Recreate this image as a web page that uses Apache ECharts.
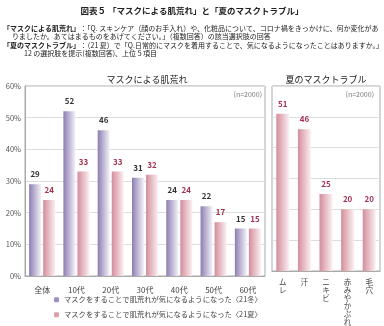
<!DOCTYPE html>
<html><head><meta charset="utf-8">
<script src="https://cdn.jsdelivr.net/npm/echarts@6/dist/echarts.min.js"></script>
<style>html,body{margin:0;padding:0;background:#fff}#c{width:384px;height:326px}</style>
</head><body><div id="c"></div>
<script>
var leftCategories = ['全体','10代','20代','30代','40代','50代','60代'];
var winter21 = [29, 52, 46, 31, 24, 22, 15];
var summer21 = [24, 33, 33, 32, 24, 17, 15];
var rightCategories = ['ムレ','汗','ニキビ','赤みやかぶれ','毛穴'];
var troubleValues = [51, 46, 25, 20, 20];
var yTicks = [0, 10, 20, 30, 40, 50, 60];
var seriesNames = ['マスクをすることで肌荒れが気になるようになった〈21冬〉','マスクをすることで肌荒れが気になるようになった〈21夏〉'];

var F = '"Noto Sans CJK JP", "Noto Sans", sans-serif';
function grad(c1, c2){
  return new echarts.graphic.LinearGradient(0,0,1,0,[{offset:0,color:c1},{offset:1,color:c2}]);
}
var purple = grad('#8d7db2','#f4f2f8');
var pink = grad('#d48d9c','#fbf0f2');
var legendText = {fontSize:7.3, color:'#444', fontFamily:F};

var chart = echarts.init(document.getElementById('c'));
chart.setOption({
  animation:false,
  textStyle:{fontFamily:F},
  grid:[
    {left:25, top:86, width:240, height:190, show:true, borderColor:'#aaa', borderWidth:1},
    {left:272, top:86, width:108, height:190, show:true, borderColor:'#aaa', borderWidth:1}
  ],
  xAxis:[
    {type:'category', gridIndex:0, data:leftCategories, axisTick:{show:false}, axisLine:{lineStyle:{color:'#aaa'}},
     axisLabel:{color:'#444', fontSize:8, margin:10, fontFamily:F}},
    {type:'category', gridIndex:1, data:rightCategories.map(function(s){return s.split('').join('\n');}),
     axisTick:{show:false}, axisLine:{lineStyle:{color:'#aaa'}},
     axisLabel:{color:'#444', fontSize:7.5, lineHeight:8, margin:7, interval:0, verticalAlign:'top', fontFamily:F}}
  ],
  yAxis:[
    {type:'value', gridIndex:0, min:yTicks[0], max:yTicks[yTicks.length-1], interval:10,
     axisLine:{show:true, lineStyle:{color:'#aaa'}},
     axisLabel:{formatter:'{value}%', color:'#555', fontSize:7.5, margin:4, fontFamily:F},
     splitLine:{lineStyle:{color:'#ddd'}}},
    {type:'value', gridIndex:1, min:yTicks[0], max:yTicks[yTicks.length-1], interval:10,
     axisLine:{show:false}, axisLabel:{show:false}, splitLine:{lineStyle:{color:'#ddd'}}}
  ],
  legend:[
    {left:54, top:296, itemWidth:5, itemHeight:5, padding:0, textStyle:legendText,
     data:[{name:seriesNames[0], itemStyle:{color:'#9d90c0'}}]},
    {left:54, top:311, itemWidth:5, itemHeight:5, padding:0, textStyle:legendText,
     data:[{name:seriesNames[1], itemStyle:{color:'#dca0ac'}}]}
  ],
  title:[
    {text:'マスクによる肌荒れ', left:142, top:70, textAlign:'center', textStyle:{fontSize:9, fontWeight:'normal', color:'#222', fontFamily:F}},
    {text:'夏のマスクトラブル', left:321, top:70, textAlign:'center', textStyle:{fontSize:9, fontWeight:'normal', color:'#222', fontFamily:F}}
  ],
  graphic:[
    {type:'text', left:'center', top:7, style:{text:'図表５ 「マスクによる肌荒れ」と「夏のマスクトラブル」', font:'bold 8.5px '+F, fill:'#222'}},
    {type:'text', left:3, top:25, style:{text:'{b|「マスクによる肌荒れ」}：「Q. スキンケア（顔のお手入れ）や、化粧品について、コロナ禍をきっかけに、何か変化があ',
      font:'7px '+F, fill:'#222', rich:{b:{fontWeight:'bold', fontSize:7, fontFamily:F, fill:'#222'}}}},
    {type:'text', left:12, top:33, style:{text:'りましたか。あてはまるものをあげてください。」（複数回答）の該当選択肢の回答', font:'7px '+F, fill:'#222'}},
    {type:'text', left:3, top:42, style:{text:'{b|「夏のマスクトラブル」}：（21 夏）で「Q.日常的にマスクを着用することで、気になるようになったことはありますか。」',
      font:'7px '+F, fill:'#222', rich:{b:{fontWeight:'bold', fontSize:7, fontFamily:F, fill:'#222'}}}},
    {type:'text', left:24, top:50, style:{text:'12 の選択肢を提示(複数回答)、上位 5 項目', font:'7px '+F, fill:'#222'}},
    {type:'text', right:122, top:91, style:{text:'(n=2000)', font:'7px '+F, fill:'#777'}},
    {type:'text', right:10, top:91, style:{text:'(n=2000)', font:'7px '+F, fill:'#777'}}
  ],
  series:[
    {name:seriesNames[0], type:'bar', xAxisIndex:0, yAxisIndex:0, data:winter21, barWidth:12, barGap:'17%',
     itemStyle:{color:purple},
     label:{show:true, position:'top', distance:6, color:'#333', fontWeight:'bold', fontSize:8, fontFamily:F}},
    {name:seriesNames[1], type:'bar', xAxisIndex:0, yAxisIndex:0, data:summer21, barWidth:12, barGap:'17%',
     itemStyle:{color:pink},
     label:{show:true, position:'top', distance:6, color:'#a3324f', fontWeight:'bold', fontSize:8, fontFamily:F}},
    {name:'夏のマスクトラブル', type:'bar', xAxisIndex:1, yAxisIndex:1, data:troubleValues, barWidth:13,
     itemStyle:{color:pink},
     label:{show:true, position:'top', distance:6, color:'#a3324f', fontWeight:'bold', fontSize:8, fontFamily:F}}
  ]
});
</script></body></html>
